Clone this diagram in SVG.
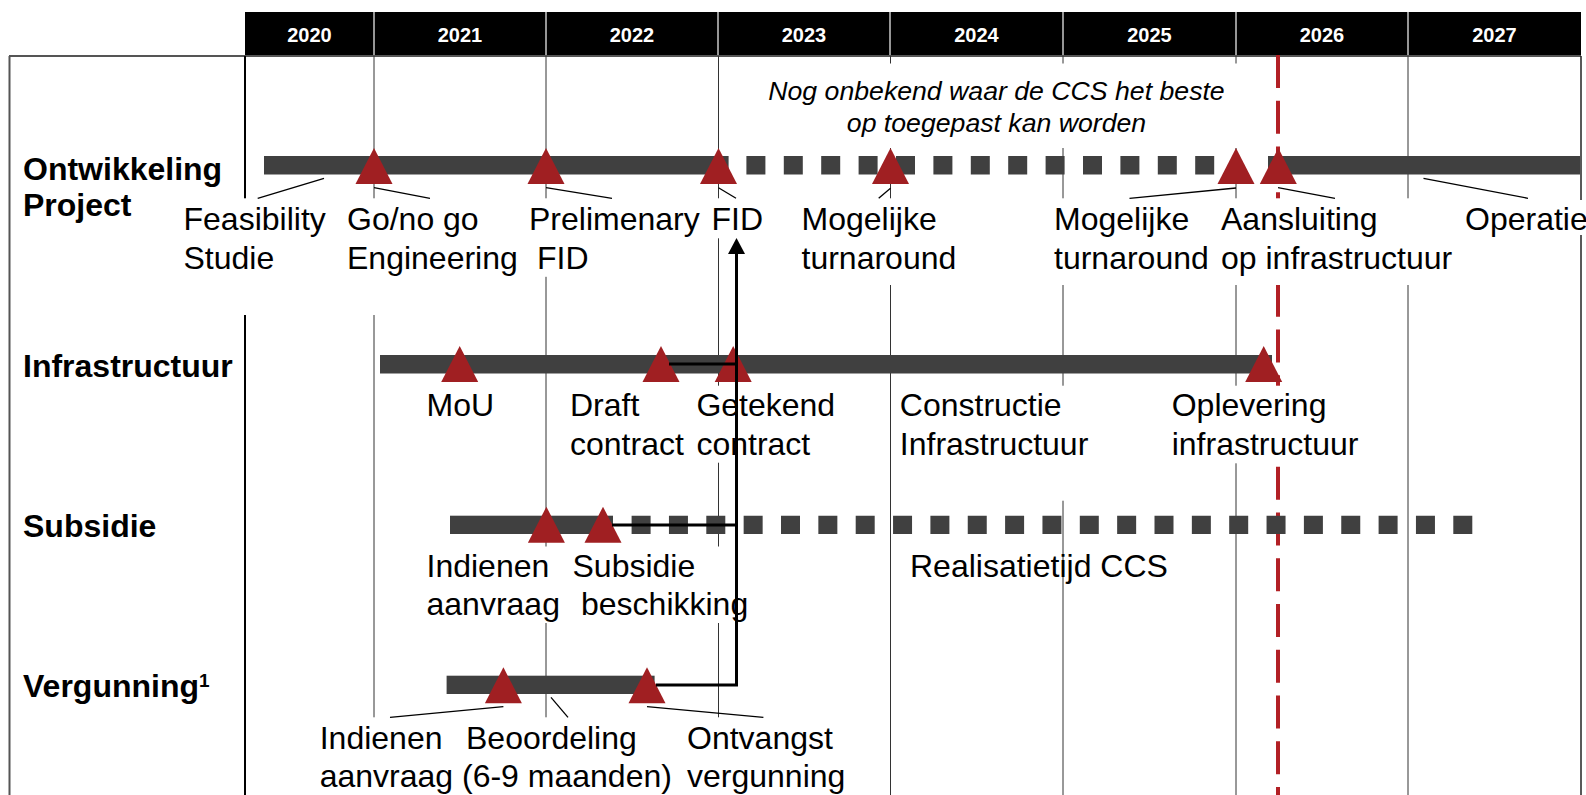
<svg xmlns="http://www.w3.org/2000/svg" width="1586" height="795" viewBox="0 0 1586 795">
<style>
.grid{stroke:#333;stroke-width:1;fill:none}
.hsep{stroke:#c8c8c8;stroke-width:1.5}
.wb{fill:#fff}
.bar{fill:#404040}
.dbar{stroke:#404040;fill:none}
.lead{stroke:#000;stroke-width:1.3;fill:none}
.conn{stroke:#000;stroke-width:3;fill:none}
.lbl{font-family:"Liberation Sans",Arial,sans-serif;font-size:32px;fill:#000}
.ttl{font-family:"Liberation Sans",Arial,sans-serif;font-size:32px;font-weight:bold;fill:#000}
.yr{font-family:"Liberation Sans",Arial,sans-serif;font-size:20px;font-weight:bold;fill:#fff;text-anchor:middle}
.note{font-family:"Liberation Sans",Arial,sans-serif;font-size:26.67px;font-style:italic;fill:#000;text-anchor:middle}
.tri{fill:#A01F22}
</style>
<defs>
<path id="tri" d="M0,0 L18.5,36 L-18.5,36 Z"/>
<marker id="arr" markerUnits="userSpaceOnUse" viewBox="0 0 16 17" markerWidth="16" markerHeight="17" refX="0" refY="8.5" orient="auto">
<path d="M0,0 L16,8.5 L0,17 Z" fill="#000"/>
</marker>
</defs>

<!-- header -->
<g id="header">
<rect x="245" y="12" width="1336" height="43.5" fill="#000"/>
<line class="hsep" x1="374" y1="12" x2="374" y2="55"/>
<line class="hsep" x1="546" y1="12" x2="546" y2="55"/>
<line class="hsep" x1="718" y1="12" x2="718" y2="55"/>
<line class="hsep" x1="890" y1="12" x2="890" y2="55"/>
<line class="hsep" x1="1063" y1="12" x2="1063" y2="55"/>
<line class="hsep" x1="1236" y1="12" x2="1236" y2="55"/>
<line class="hsep" x1="1408" y1="12" x2="1408" y2="55"/>
<text class="yr" x="309.5" y="42">2020</text>
<text class="yr" x="460" y="42">2021</text>
<text class="yr" x="632" y="42">2022</text>
<text class="yr" x="804" y="42">2023</text>
<text class="yr" x="976.5" y="42">2024</text>
<text class="yr" x="1149.5" y="42">2025</text>
<text class="yr" x="1322" y="42">2026</text>
<text class="yr" x="1494.5" y="42">2027</text>
</g>

<!-- frame and grid -->
<g id="grid">
<line x1="9" y1="56" x2="1581" y2="56" stroke="#555" stroke-width="2"/>
<line x1="9.5" y1="56" x2="9.5" y2="795" stroke="#555" stroke-width="2"/>
<line x1="1581" y1="56" x2="1581" y2="795" stroke="#222" stroke-width="1.5"/>
<line x1="245" y1="56" x2="245" y2="795" stroke="#000" stroke-width="2"/>
<line class="grid" x1="374" y1="56" x2="374" y2="795"/>
<line class="grid" x1="546" y1="56" x2="546" y2="795"/>
<line class="grid" x1="718.5" y1="56" x2="718.5" y2="795"/>
<line class="grid" x1="890.5" y1="56" x2="890.5" y2="795"/>
<line class="grid" x1="1063" y1="56" x2="1063" y2="795"/>
<line class="grid" x1="1236" y1="56" x2="1236" y2="795"/>
<line class="grid" x1="1408" y1="56" x2="1408" y2="795"/>
<line x1="1278" y1="55" x2="1278" y2="795" stroke="#B22025" stroke-width="4" stroke-dasharray="33 12.75"/>
</g>

<!-- white label backgrounds -->
<g id="label-backgrounds">
<rect class="wb" x="745" y="63.5" width="510" height="84.5"/>
<rect class="wb" x="180" y="198.3" width="152" height="116.7"/>
<rect class="wb" x="343" y="198.3" width="174" height="116.7"/>
<rect class="wb" x="525" y="198.3" width="178" height="78.5"/>
<rect class="wb" x="708" y="198.3" width="54" height="40"/>
<rect class="wb" x="798" y="198.3" width="162" height="86.7"/>
<rect class="wb" x="1050" y="198.3" width="152" height="86.7"/>
<rect class="wb" x="1218" y="198.3" width="238" height="86.7"/>
<rect class="wb" x="1460" y="200" width="126" height="35"/>
<rect class="wb" x="693" y="385.7" width="138" height="77"/>
<rect class="wb" x="897" y="385.7" width="193" height="115"/>
<rect class="wb" x="1168" y="385.7" width="178" height="77.6"/>
<rect class="wb" x="423" y="546.5" width="137" height="76.5"/>
<rect class="wb" x="569" y="546.5" width="181" height="76.5"/>
<rect class="wb" x="317" y="717.3" width="128" height="78"/>
<rect class="wb" x="458" y="717.3" width="214" height="78"/>
<rect class="wb" x="684" y="717.3" width="152" height="78"/>
</g>

<!-- rows -->
<g id="row-ontwikkeling">
<text class="ttl" x="23" y="180">Ontwikkeling</text>
<text class="ttl" x="23" y="216">Project</text>
<rect class="bar" x="264" y="156" width="464.6" height="18.5"/>
<line class="dbar" x1="746.4" y1="165.25" x2="1214.3" y2="165.25" stroke-width="18.5" stroke-dasharray="19 18.4"/>
<rect class="bar" x="1268" y="156" width="312" height="18.5"/>
<use href="#tri" class="tri" x="374" y="148"/>
<use href="#tri" class="tri" x="546" y="148"/>
<use href="#tri" class="tri" x="718.5" y="148"/>
<use href="#tri" class="tri" x="890.5" y="148"/>
<use href="#tri" class="tri" x="1236" y="148"/>
<use href="#tri" class="tri" x="1278.3" y="148"/>
<text class="note" x="996.5" y="100">Nog onbekend waar de CCS het beste</text>
<text class="note" x="996.5" y="132">op toegepast kan worden</text>
</g>

<g id="row-infrastructuur">
<text class="ttl" x="23" y="377">Infrastructuur</text>
<rect class="bar" x="380" y="355" width="892" height="18.5"/>
<use href="#tri" class="tri" x="459.7" y="346"/>
<use href="#tri" class="tri" x="661" y="346"/>
<use href="#tri" class="tri" x="733.2" y="346"/>
<use href="#tri" class="tri" x="1263.7" y="346"/>
</g>

<g id="row-subsidie">
<text class="ttl" x="23" y="537">Subsidie</text>
<rect class="bar" x="450" y="515.7" width="163" height="18.3"/>
<line class="dbar" x1="631.6" y1="524.85" x2="1472.3" y2="524.85" stroke-width="18.3" stroke-dasharray="19 18.35"/>
<use href="#tri" class="tri" x="546.4" y="506.7"/>
<use href="#tri" class="tri" x="603" y="506.7"/>
</g>

<g id="row-vergunning">
<text class="ttl" x="23" y="697">Vergunning<tspan font-size="19" dy="-10">1</tspan></text>
<rect class="bar" x="446.6" y="675.7" width="208" height="18.3"/>
<use href="#tri" class="tri" x="503.4" y="667.3"/>
<use href="#tri" class="tri" x="647" y="667.3"/>
</g>

<!-- leader lines -->
<g id="leaders">
<line class="lead" x1="324" y1="178.3" x2="257.7" y2="198.3"/>
<line class="lead" x1="374" y1="187.7" x2="430" y2="198.3"/>
<line class="lead" x1="546" y1="187.7" x2="612" y2="198.3"/>
<line class="lead" x1="718.5" y1="187.7" x2="736" y2="198.3"/>
<line class="lead" x1="890.5" y1="188.3" x2="878.7" y2="198.3"/>
<line class="lead" x1="1236" y1="188" x2="1129.5" y2="198.3"/>
<line class="lead" x1="1278" y1="187.7" x2="1335" y2="198.3"/>
<line class="lead" x1="1423.5" y1="178.3" x2="1528" y2="198.3"/>
<line class="lead" x1="503.4" y1="706.7" x2="390" y2="717.3"/>
<line class="lead" x1="551" y1="697.3" x2="568" y2="717.3"/>
<line class="lead" x1="647" y1="706.7" x2="763.4" y2="717.3"/>
</g>

<!-- labels -->
<g id="labels">
<text class="lbl"><tspan x="183.5" y="230">Feasibility</tspan><tspan x="183.5" y="268.5">Studie</tspan></text>
<text class="lbl"><tspan x="347" y="230">Go/no go</tspan><tspan x="347" y="268.5">Engineering</tspan></text>
<text class="lbl"><tspan x="529" y="230">Prelimenary</tspan><tspan x="537" y="268.5">FID</tspan></text>
<text class="lbl" x="711.5" y="230">FID</text>
<text class="lbl"><tspan x="801.5" y="230">Mogelijke</tspan><tspan x="801.5" y="268.5">turnaround</tspan></text>
<text class="lbl"><tspan x="1054" y="230">Mogelijke</tspan><tspan x="1054" y="268.5">turnaround</tspan></text>
<text class="lbl"><tspan x="1221" y="230">Aansluiting</tspan><tspan x="1221" y="268.5">op infrastructuur</tspan></text>
<text class="lbl" x="1465" y="230">Operatie</text>

<text class="lbl" x="426.5" y="416">MoU</text>
<text class="lbl"><tspan x="570" y="416">Draft</tspan><tspan x="570" y="455">contract</tspan></text>
<text class="lbl"><tspan x="696.4" y="416">Getekend</tspan><tspan x="696.4" y="455">contract</tspan></text>
<text class="lbl"><tspan x="899.8" y="416">Constructie</tspan><tspan x="899.8" y="455">Infrastructuur</tspan></text>
<text class="lbl"><tspan x="1171.7" y="416">Oplevering</tspan><tspan x="1171.7" y="455">infrastructuur</tspan></text>

<text class="lbl"><tspan x="426.5" y="577">Indienen</tspan><tspan x="426.5" y="615">aanvraag</tspan></text>
<text class="lbl"><tspan x="572.5" y="577">Subsidie</tspan><tspan x="581" y="615">beschikking</tspan></text>
<text class="lbl" x="910" y="577">Realisatietijd CCS</text>

<text class="lbl"><tspan x="319.7" y="749">Indienen</tspan><tspan x="319.7" y="787">aanvraag</tspan></text>
<text class="lbl"><tspan x="466" y="749">Beoordeling</tspan><tspan x="462" y="787">(6-9 maanden)</tspan></text>
<text class="lbl"><tspan x="687" y="749">Ontvangst</tspan><tspan x="687" y="787">vergunning</tspan></text>
</g>

<!-- connectors -->
<g id="connectors">
<path class="conn" d="M656,685 H736.5 V254" marker-end="url(#arr)"/>
<path class="conn" d="M669,364 H736.5"/>
<path class="conn" d="M612,525 H736.5"/>
</g>
</svg>
